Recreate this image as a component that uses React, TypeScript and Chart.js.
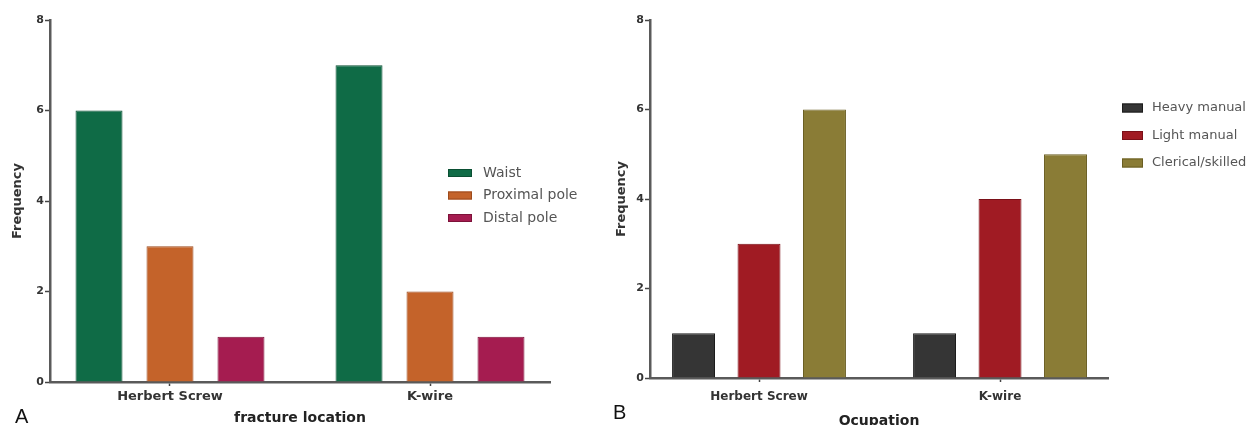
import React, { useEffect, useRef } from 'react';
import { Chart, registerables } from 'chart.js';

Chart.register(...registerables);

// ---------- data ----------
const categories = ['Herbert Screw', 'K-wire'];
const categoryIndex = [0, 1];

const fractureLabels = ['Waist', 'Proximal pole', 'Distal pole'];
const waist = [6, 7];
const proximalPole = [3, 2];
const distalPole = [1, 1];

const occupationLabels = ['Heavy manual', 'Light manual', 'Clerical/skilled'];
const heavyManual = [1, 1];
const lightManual = [3, 4];
const clericalSkilled = [6, 5];

const yTickValues = [0, 2, 4, 6, 8];

// ---------- styles ----------
const fractureColors = ['#0f6b46', '#c4632a', '#a51c50'];
const fractureBorders = ['#0a4f33', '#9c4a1c', '#7d1239'];
const occupationColors = ['#353535', '#a01b23', '#8a7c36'];
const occupationBorders = ['#1c1c1c', '#7a1018', '#6a5e22'];

const FONT = '"DejaVu Sans", Verdana, sans-serif';

const boxLegend = {
  id: 'boxLegend',
  afterDraw(chart: any, _args: any, opts: any) {
    const ctx = chart.ctx;
    ctx.save();
    chart.data.datasets.forEach((ds: any, i: number) => {
      const cy = opts.y + i * opts.gap;
      ctx.fillStyle = ds.backgroundColor;
      ctx.fillRect(opts.x, cy - opts.boxH / 2, opts.boxW, opts.boxH);
      ctx.strokeStyle = ds.borderColor;
      ctx.lineWidth = 1;
      ctx.strokeRect(opts.x + 0.5, cy - opts.boxH / 2 + 0.5, opts.boxW - 1, opts.boxH - 1);
      ctx.fillStyle = opts.color;
      ctx.font = opts.font;
      ctx.textBaseline = 'middle';
      ctx.textAlign = 'left';
      ctx.fillText(ds.label, opts.x + opts.boxW + opts.textGap, cy);
    });
    ctx.restore();
  },
};

type PanelProps = {
  width: number;
  height: number;
  left: number;
  labels: string[];
  series: number[][];
  colors: string[];
  borders: string[];
  xTitle: string;
  xMin: number;
  xMax: number;
  catPct: number;
  barPct: number;
  padRight: number;
  xAxisHeight: number;
  xTickPad: number;
  xTickSize: number;
  xTitleSize: number;
  xTitlePadBottom: number;
  yTitlePad: number;
  legend: any;
};

function Panel(p: PanelProps) {
  const ref = useRef<HTMLCanvasElement | null>(null);
  useEffect(() => {
    if (!ref.current) return;
    const chart = new Chart(ref.current, {
      type: 'bar',
      data: {
        datasets: p.series.map((vals, i) => ({
          label: p.labels[i],
          data: categoryIndex.map((x, j) => ({ x, y: vals[j] })),
          backgroundColor: p.colors[i],
          borderColor: p.borders[i],
          borderWidth: 1,
          categoryPercentage: p.catPct,
          barPercentage: p.barPct,
        })),
      },
      options: {
        responsive: false,
        animation: false,
        layout: { padding: { left: 0, right: p.padRight, top: 20, bottom: 0 } },
        plugins: {
          legend: { display: false },
          tooltip: { enabled: false },
          boxLegend: p.legend,
        } as any,
        scales: {
          x: {
            type: 'linear',
            min: p.xMin,
            max: p.xMax,
            offset: false,
            afterBuildTicks: (s: any) => {
              s.ticks = categoryIndex.map((v) => ({ value: v }));
            },
            afterFit: (s: any) => {
              s.height = p.xAxisHeight;
            },
            grid: {
              offset: false,
              drawOnChartArea: false,
              drawTicks: true,
              tickLength: 4,
              tickWidth: 1.5,
              tickColor: '#444',
            },
            border: { display: true, color: '#5a5a5a', width: 2.5 },
            ticks: {
              autoSkip: false,
              maxRotation: 0,
              padding: p.xTickPad,
              color: '#333',
              font: { family: FONT, size: p.xTickSize, weight: 'bold' },
              callback: (_v: any, i: number) => categories[i],
            },
            title: {
              display: true,
              text: p.xTitle,
              color: '#222',
              font: { family: FONT, size: p.xTitleSize, weight: 'bold' },
              padding: { top: 0, bottom: p.xTitlePadBottom },
            },
          },
          y: {
            min: 0,
            max: 8,
            afterBuildTicks: (s: any) => {
              s.ticks = yTickValues.map((v) => ({ value: v }));
            },
            afterFit: (s: any) => {
              s.width = 50;
            },
            grid: {
              drawOnChartArea: false,
              drawTicks: true,
              tickLength: 5,
              tickWidth: 1.5,
              tickColor: '#444',
            },
            border: { display: true, color: '#5a5a5a', width: 2.5 },
            ticks: {
              padding: 1,
              color: '#333',
              font: { family: FONT, size: 11, weight: 'bold' },
            },
            title: {
              display: true,
              text: 'Frequency',
              color: '#333',
              font: { family: FONT, size: 13, weight: 'bold' },
              padding: { top: p.yTitlePad, bottom: 0 },
            },
          },
        },
      } as any,
      plugins: [boxLegend as any],
    });
    return () => chart.destroy();
  }, []);
  return (
    <canvas
      ref={ref}
      width={p.width}
      height={p.height}
      style={{ position: 'absolute', left: p.left, top: 0, width: p.width, height: p.height }}
    />
  );
}

const letterStyle: React.CSSProperties = {
  position: 'absolute',
  fontFamily: '"Liberation Sans", Arial, sans-serif',
  fontSize: 20,
  lineHeight: '20px',
  color: '#111',
};

export default function App() {
  return (
    <div
      style={{
        position: 'absolute',
        left: 0,
        top: 0,
        width: 1250,
        height: 425,
        overflow: 'hidden',
        background: '#fff',
      }}
    >
      <Panel
        width={620}
        height={425}
        left={0}
        labels={fractureLabels}
        series={[waist, proximalPole, distalPole]}
        colors={fractureColors}
        borders={fractureBorders}
        xTitle="fracture location"
        xMin={-0.4615}
        xMax={1.4615}
        catPct={0.819}
        barPct={0.662}
        padRight={70}
        xAxisHeight={43}
        xTickPad={3}
        xTickSize={13}
        xTitleSize={14}
        xTitlePadBottom={-2}
        yTitlePad={10}
        legend={{ x: 448, y: 173, gap: 22.5, boxW: 24, boxH: 8, textGap: 11, font: `14px ${FONT}`, color: '#555' }}
      />
      <Panel
        width={650}
        height={425}
        left={600}
        labels={occupationLabels}
        series={[heavyManual, lightManual, clericalSkilled]}
        colors={occupationColors}
        borders={occupationBorders}
        xTitle="Ocupation"
        xMin={-0.4523}
        xMax={1.448}
        catPct={0.815}
        barPct={0.656}
        padRight={142}
        xAxisHeight={47}
        xTickPad={8}
        xTickSize={12}
        xTitleSize={14}
        xTitlePadBottom={-5}
        yTitlePad={14}
        legend={{ x: 522, y: 108, gap: 27.5, boxW: 21, boxH: 9, textGap: 9, font: `13px ${FONT}`, color: '#555' }}
      />
      <div style={{ ...letterStyle, left: 15, top: 406 }}>A</div>
      <div style={{ ...letterStyle, left: 613, top: 402 }}>B</div>
    </div>
  );
}
